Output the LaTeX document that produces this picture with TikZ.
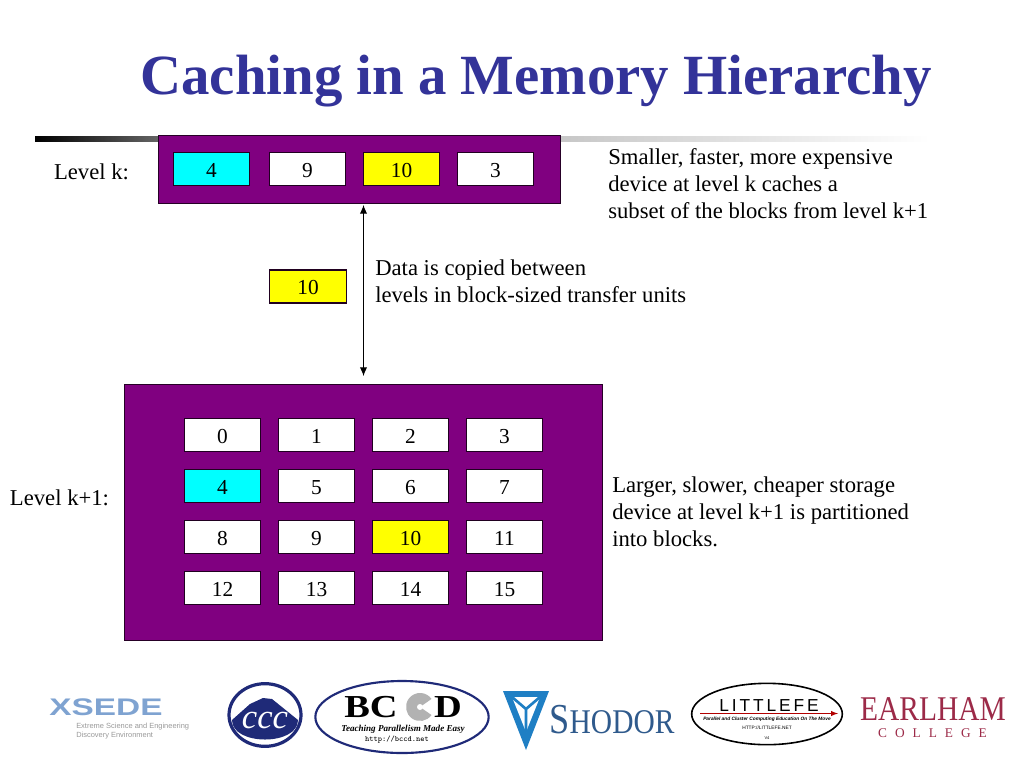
\documentclass[tikz,border=0pt]{standalone}
\usepackage{fontspec}
\setmainfont{Liberation Serif}
\newfontfamily\logosans{Liberation Sans}
\usetikzlibrary{calc, shapes.geometric, arrows.meta}

\definecolor{levelpurple}{HTML}{800080}
\definecolor{titleblue}{HTML}{333399}
\definecolor{blockcyan}{HTML}{00FFFF}
\definecolor{blockyellow}{HTML}{FFFF00}
\definecolor{xsedeblue}{HTML}{7FA3D1}
\definecolor{logonavy}{HTML}{1F2A78}
\definecolor{shodorblue}{HTML}{2F5A8C}
\definecolor{shodorsky}{HTML}{1F7FC4}
\definecolor{earlhamred}{HTML}{9C2A48}

\tikzset{
    block/.style = {draw = black!75!levelpurple, line width = 0.9pt, fill = white, minimum width = 57.5pt, minimum height = 25pt, inner sep = 0pt, text height = 12.3pt, text depth = 0pt, font = \fontsize{16}{19}\selectfont},
    levelbox/.style = {draw = black!70!levelpurple, line width = 0.6pt, fill = levelpurple, inner sep = 0pt},
    note/.style = {anchor = west, align = left, inner sep = 0pt, font = \fontsize{17}{20.2}\selectfont}
}

\begin{document}
\begin{tikzpicture}[x = 0.75pt, y = -0.75pt]
\useasboundingbox (0,0) rectangle (1024,768);

%heading and rule
        \shade[left color = black, right color = black!60] (35,136) rectangle (160,141);
        \shade[left color = black!22, right color = white] (560,136) rectangle (930,141);
        \node (title) at (536,81) [inner sep = 0pt, text = titleblue, font = \fontsize{42.6}{49}\selectfont\bfseries] {Caching in a Memory Hierarchy};

%level k
        \node (levelk) [levelbox, minimum width = 301.5pt, minimum height = 51.5pt] at (359,169.5) {};
        \node (k4) [block, fill = blockcyan] at (211.5,169) {4};
        \node (k9) [block] at (307.5,169) {9};
        \node (k10) [block, fill = blockyellow] at (401.5,169) {10};
        \node (k3) [block] at (495.5,169) {3};
        \node (labelk) at (91.5,172) [inner sep = 0pt, font = \fontsize{17}{20}\selectfont] {Level k:};
        \node (notek) at (608,184) [note] {Smaller, faster, more expensive\\device at level k caches a\\subset of the blocks from level k+1};

%level k+1
        \node (levelkk) [levelbox, minimum width = 359pt, minimum height = 192pt] at (363.5,512) {};
        \foreach \num/\col/\row in {0/0/0, 1/1/0, 2/2/0, 3/3/0, 5/1/1, 6/2/1, 7/3/1, 8/0/2, 9/1/2, 11/3/2, 12/0/3, 13/1/3, 14/2/3, 15/3/3}
        {
            \node (b\num) [block] at ({222.5 + 94*\col},{435 + 51*\row}) {\num};
        }
        \node (b4) [block, fill = blockcyan] at (222.5,486) {4};
        \node (b10) [block, fill = blockyellow] at (410.5,537) {10};
        \node (labelkk) at (59.5,498) [inner sep = 0pt, font = \fontsize{17}{20}\selectfont] {Level k+1:};
        \node (notekk) at (612,512) [note] {Larger, slower, cheaper storage\\device at level k+1 is partitioned\\into blocks.};

%transfer between levels
        \node (moved) [block, fill = blockyellow, line width = 1.1pt] at (308,286.5) {10};
        \coordinate (top) at (363.5,205);
        \coordinate (bottom) at (363.5,376);
        \draw[{Latex[length = 6.5pt, width = 5.5pt]}-{Latex[length = 6.5pt, width = 5.5pt]}, line width = 0.7pt] (top) -- (bottom);
        \node (notecopy) at (375,281) [note] {Data is copied between\\levels in block-sized transfer units};

%xsede logo
        \node (xsede) at (106,707) [inner sep = 0pt, text = xsedeblue, xscale = 1.39, transform shape, font = \logosans\fontsize{18}{18}\selectfont\bfseries] {XSEDE};
        \node (xsedetxt) at (76,731) [anchor = west, align = left, inner sep = 0pt, text = black!40, font = \logosans\fontsize{5.6}{7}\selectfont] {Extreme Science and Engineering\\Discovery Environment};

%ccc logo
        \node (ccc) at (265,715) [draw = logonavy, line width = 2.4pt, fill = white, ellipse, minimum width = 54pt, minimum height = 47pt, inner sep = 0pt] {};
        \fill[logonavy] (232,720) -- (250,704) -- (263,698) -- (272,699) -- (298,720) .. controls (298,746) and (232,746) .. (232,720) -- cycle;
        \node (ccctxt) at (265,720) [text = white, inner sep = 0pt, font = \fontsize{26}{26}\selectfont\itshape] {ccc};

%bccd logo
        \node (bccd) at (402,717) [draw = logonavy, line width = 1.6pt, fill = white, ellipse, minimum width = 130pt, minimum height = 54pt, inner sep = 0pt] {};
        \node (bc) at (371,707) [inner sep = 0pt, xscale = 1.2, transform shape, font = \fontsize{24}{24}\selectfont\bfseries] {BC};
        \node (d) at (448,707) [inner sep = 0pt, xscale = 1.2, transform shape, font = \fontsize{24}{24}\selectfont\bfseries] {D};
        \fill[black!30] (431.5,715) arc (35:325:14) -- (420,707) -- cycle;
        \fill[white] (420,707) circle (3);
        \node (bccdtxt) at (403,729) [inner sep = 0pt, font = \fontsize{6.8}{7}\selectfont\itshape\bfseries] {Teaching Parallelism Made Easy};
        \node (bccdurl) at (397,740) [inner sep = 0pt, font = \ttfamily\fontsize{6}{6}\selectfont] {http://bccd.net};

%shodor logo
        \fill[shodorsky] (503,691) -- (549,691) -- (526,750) -- cycle;
        \fill[white] (512,697) -- (540,697) -- (526,732) -- cycle;
        \coordinate (hub) at (526,709);
        \draw[shodorsky, line width = 2pt] (hub) -- (512,697) (hub) -- (540,697) (hub) -- (526,732);
        \node (shodor) at (612,720) [inner sep = 0pt, text = shodorblue, xscale = 0.85, transform shape, font = \fontsize{26}{26}\selectfont] {{\fontsize{32}{32}\selectfont S}HODOR};

%littlefe logo
        \node (littlefe) at (767,714) [draw = black, line width = 1.2pt, fill = white, ellipse, minimum width = 113pt, minimum height = 46pt, inner sep = 0pt] {};
        \node (lftxt) at (769,706) [inner sep = 0pt, font = \logosans\fontsize{13}{13}\selectfont] {L\,I\,T\,T\,L\,E\,F\,E};
        \coordinate (lfleft) at (700,713.5);
        \coordinate (lfright) at (838,713.5);
        \draw[-latex, red!70!black, line width = 0.8pt] (lfleft) -- (lfright);
        \node (lfsub) at (767,719) [inner sep = 0pt, font = \logosans\fontsize{3.6}{4}\selectfont\itshape\bfseries] {Parallel and Cluster Computing Education On The Move};
        \node (lfurl) at (767,728) [inner sep = 0pt, font = \logosans\fontsize{3.6}{4}\selectfont] {HTTP://LITTLEFE.NET};
        \node (lfver) at (767,738) [inner sep = 0pt, font = \logosans\fontsize{3}{3}\selectfont] {V4};

%earlham logo
        \node (earlham) at (933,709) [inner sep = 0pt, text = earlhamred, xscale = 0.85, transform shape, font = \fontsize{26}{26}\selectfont] {EARLHAM};
        \node (college) at (932.5,733) [inner sep = 0pt, text = earlhamred, font = \fontsize{10}{10}\selectfont] {C\hspace{6pt}O\hspace{6pt}L\hspace{6pt}L\hspace{6pt}E\hspace{6pt}G\hspace{6pt}E};
\end{tikzpicture}
\end{document}
